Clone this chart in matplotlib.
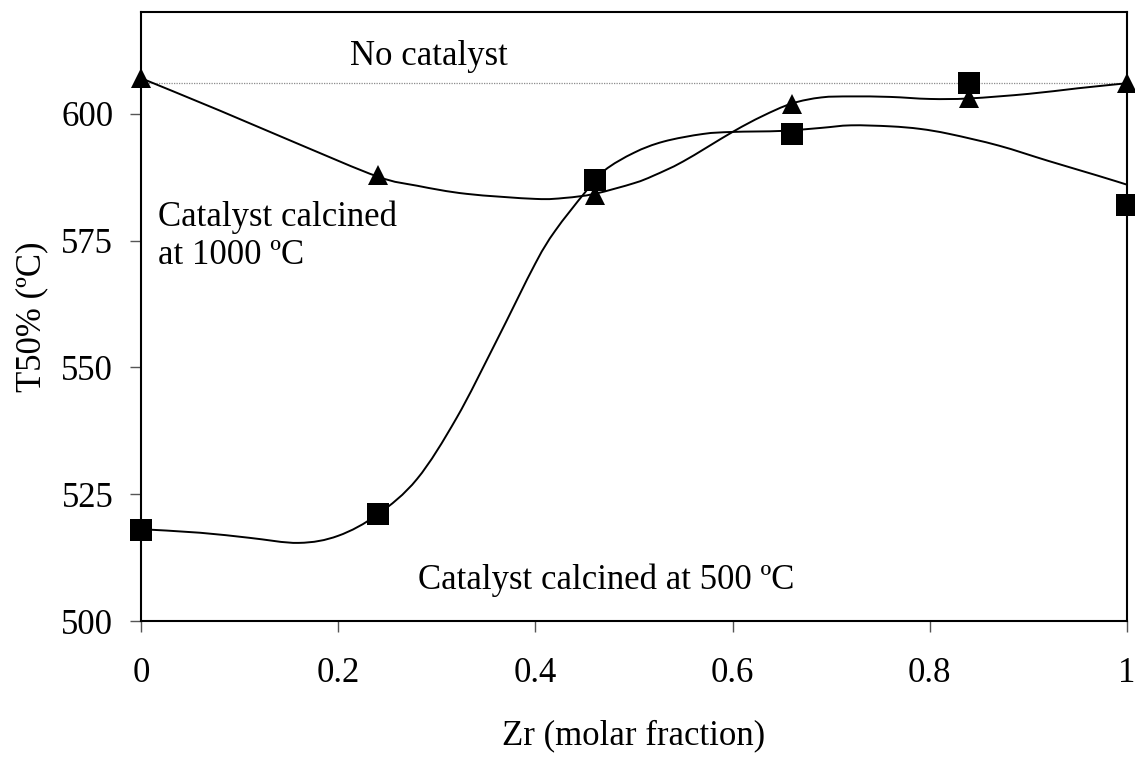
import matplotlib
matplotlib.use('Agg')
import matplotlib.pyplot as plt
import numpy as np
from matplotlib.path import Path
from matplotlib.patches import PathPatch

plt.rcParams['font.family'] = ['Liberation Serif', 'DejaVu Serif']
plt.rcParams['font.size'] = 25

# Measured T50% values
zr = [0.0, 0.24, 0.46, 0.66, 0.84, 1.0]
t50_calc500 = [518, 521, 587, 596, 606, 582]
t50_calc1000 = [607, 588, 584, 602, 603, 606]
t50_no_catalyst = 606

# Smoothed trend curves
trend500_x = [0.00, 0.06, 0.11, 0.16, 0.20, 0.24, 0.28, 0.32, 0.36, 0.40, 0.42,
              0.45, 0.47, 0.50, 0.53, 0.57, 0.60, 0.65, 0.69, 0.72, 0.76, 0.79,
              0.82, 0.87, 0.92, 0.97, 1.00]
trend500_y = [518.1, 517.4, 516.4, 515.4, 516.8, 521.0, 528.0, 540.0, 555.0, 570.5, 576.9,
              584.4, 588.8, 592.3, 594.5, 596.0, 596.4, 596.6, 597.2, 597.7, 597.5, 597.0,
              596.0, 593.7, 590.7, 587.8, 586.0]
trend1000_x = [0.00, 0.08, 0.16, 0.24, 0.28, 0.33, 0.40, 0.43, 0.46, 0.50,
               0.52, 0.55, 0.60, 0.63, 0.66, 0.69, 0.72, 0.76, 0.80, 0.84, 0.90,
               0.95, 1.00]
trend1000_y = [607.0, 600.6, 594.0, 587.6, 585.8, 584.2, 583.2, 583.4, 584.2, 586.3,
               587.8, 590.6, 596.4, 599.5, 602.0, 603.2, 603.4, 603.3, 602.9, 603.0, 603.9,
               605.0, 606.0]


def smooth_path(x, y):
    # Catmull-Rom spline through the points, written as cubic Bezier segments
    p = np.column_stack([x, y]).astype(float)
    p = np.vstack([p[0], p, p[-1]])
    verts = [p[1]]
    codes = [Path.MOVETO]
    for i in range(1, len(p) - 2):
        c1 = p[i] + (p[i + 1] - p[i - 1]) / 6.0
        c2 = p[i + 1] - (p[i + 2] - p[i]) / 6.0
        verts += [c1, c2, p[i + 1]]
        codes += [Path.CURVE4] * 3
    return Path(verts, codes)


fig = plt.figure(figsize=(11.35, 7.62), dpi=100)
ax = fig.add_axes([0.1242, 0.185, 0.8688, 0.799])

ax.axhline(t50_no_catalyst, color='#8c8c8c', lw=0.9, ls=(0, (1, 1)), zorder=1)

for tx, ty in [(trend500_x, trend500_y), (trend1000_x, trend1000_y)]:
    ax.add_patch(PathPatch(smooth_path(tx, ty), facecolor='none', edgecolor='black',
                           lw=1.4, zorder=2))

ax.plot(zr, t50_calc500, ls='none', marker='s', ms=15.6, color='black', mew=0,
        zorder=3, clip_on=False)
ax.plot(zr, t50_calc1000, ls='none', marker='^', ms=13.7, color='black', mew=0,
        zorder=3, clip_on=False)

ax.text(0.212, 609.5, 'No catalyst', ha='left', va='baseline')
# baseline given for the second line
ax.text(0.0173, 570.4, 'Catalyst calcined\nat 1000 ºC', ha='left', va='baseline',
        linespacing=1.2)
ax.text(0.281, 506.4, 'Catalyst calcined at 500 ºC', ha='left', va='baseline')

ax.set_xlim(0, 1)
ax.set_ylim(500, 620)
ax.set_xticks([0, 0.2, 0.4, 0.6, 0.8, 1])
ax.set_xticklabels(['0', '0.2', '0.4', '0.6', '0.8', '1'])
ax.set_yticks([500, 525, 550, 575, 600])

ax.tick_params(direction='out', length=8, width=1.0, color='#555555')
ax.tick_params(axis='x', pad=18)
ax.tick_params(axis='y', pad=12)
for s in ax.spines.values():
    s.set_linewidth(1.5)

ax.set_xlabel('Zr (molar fraction)', labelpad=21)
ax.set_ylabel('T50% (ºC)', labelpad=9)

fig.savefig('out.png', dpi=100)
